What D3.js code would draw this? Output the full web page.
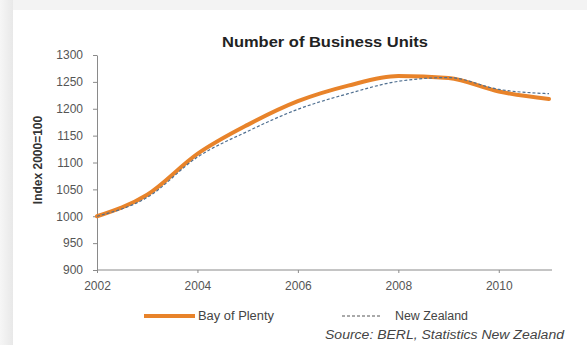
<!DOCTYPE html>
<html>
<head>
<meta charset="utf-8">
<script src="https://cdn.jsdelivr.net/npm/d3@7"></script>
<style>
  body { margin: 0; background: #fff; }
  svg { display: block; font-family: Arial, "Liberation Sans", sans-serif; }
</style>
</head>
<body>
<div id="chart"></div>
<script>
const years = [2002, 2003, 2004, 2005, 2006, 2007, 2008, 2009, 2010, 2011];
const bayOfPlenty = [1000, 1040, 1116, 1170, 1214, 1243, 1261, 1257, 1232, 1218];
const newZealand = [1000, 1035, 1110, 1158, 1199, 1228, 1251, 1258, 1236, 1228];
const yTicks = [900, 950, 1000, 1050, 1100, 1150, 1200, 1250, 1300];
const xTicks = [2002, 2004, 2006, 2008, 2010];

const W = 587, H = 345;
const svg = d3.select('#chart').append('svg')
    .attr('width', W)
    .attr('height', H);

// grey frame with white card
const defs = svg.append('defs');
const gl = defs.append('linearGradient').attr('id', 'gl').attr('x1', 0).attr('x2', 1).attr('y1', 0).attr('y2', 0);
gl.append('stop').attr('offset', 0).attr('stop-color', '#f6f6f6');
gl.append('stop').attr('offset', 1).attr('stop-color', '#e8e8e8');
svg.append('rect').attr('width', W).attr('height', H).attr('fill', '#f3f3f3');
svg.append('rect').attr('width', 13).attr('height', H).attr('fill', 'url(#gl)');
svg.append('rect').attr('x', 13).attr('y', 10).attr('width', W - 13).attr('height', H - 10).attr('fill', '#fff');

const x = d3.scaleLinear().domain([2002, 2011]).range([97, 549]);
const y = d3.scaleLinear().domain([900, 1300]).range([270, 55]);

// axes
const xAxis = svg.append('g')
    .attr('transform', 'translate(0,270)')
    .call(d3.axisBottom(x).tickValues(xTicks).tickFormat(d3.format('d')).tickSize(3).tickSizeOuter(0));
xAxis.select('.domain').attr('d', 'M97,0H552');

const yAxis = svg.append('g')
    .attr('transform', 'translate(97,0)')
    .call(d3.axisLeft(y).tickValues(yTicks).tickFormat(d3.format('d')).tickSize(4).tickSizeOuter(0));

svg.selectAll('.domain').attr('stroke', '#8a8a8a');
svg.selectAll('.tick line').attr('stroke', '#8a8a8a');
svg.selectAll('.tick text')
    .attr('fill', '#555')
    .style('font-size', '12px')
    .style('font-family', 'Arial, "Liberation Sans", sans-serif');
yAxis.selectAll('.tick text').attr('x', -14);
xAxis.selectAll('.tick text').attr('y', 11);

// lines
const line = d3.line()
    .x((d, i) => x(years[i]))
    .y(d => y(d))
    .curve(d3.curveMonotoneX);

svg.append('path')
    .datum(bayOfPlenty)
    .attr('d', line)
    .attr('fill', 'none')
    .attr('stroke', '#e8832a')
    .attr('stroke-width', 4)
    .attr('stroke-linecap', 'round');

svg.append('path')
    .datum(newZealand)
    .attr('d', line)
    .attr('fill', 'none')
    .attr('stroke', '#4f6f90')
    .attr('stroke-width', 1.2)
    .attr('stroke-dasharray', '3,2');

// title & axis label
svg.append('text')
    .attr('x', 222).attr('y', 47)
    .style('font-size', '15px')
    .style('font-weight', 'bold')
    .attr('fill', '#222')
    .attr('textLength', 206)
    .attr('lengthAdjust', 'spacingAndGlyphs')
    .text('Number of Business Units');

svg.append('text')
    .attr('transform', 'translate(42,160) rotate(-90)')
    .attr('text-anchor', 'middle')
    .style('font-size', '12px')
    .style('font-weight', 'bold')
    .attr('fill', '#333')
    .text('Index 2000=100');

// legend
const legend = svg.append('g');
legend.append('line')
    .attr('x1', 144).attr('x2', 195).attr('y1', 316).attr('y2', 316)
    .attr('stroke', '#e8832a').attr('stroke-width', 4);
legend.append('text')
    .attr('x', 198).attr('y', 320)
    .style('font-size', '12px').attr('fill', '#444')
    .attr('textLength', 76).attr('lengthAdjust', 'spacingAndGlyphs')
    .text('Bay of Plenty');
legend.append('line')
    .attr('x1', 342).attr('x2', 382).attr('y1', 316).attr('y2', 316)
    .attr('stroke', '#555').attr('stroke-width', 1)
    .attr('stroke-dasharray', '3,2');
legend.append('text')
    .attr('x', 395).attr('y', 320)
    .style('font-size', '12px').attr('fill', '#444')
    .attr('textLength', 73).attr('lengthAdjust', 'spacingAndGlyphs')
    .text('New Zealand');

svg.append('text')
    .attr('x', 325).attr('y', 339)
    .style('font-size', '12px')
    .style('font-style', 'italic')
    .attr('fill', '#444')
    .attr('textLength', 239)
    .attr('lengthAdjust', 'spacingAndGlyphs')
    .text('Source: BERL, Statistics New Zealand');
</script>
</body>
</html>
